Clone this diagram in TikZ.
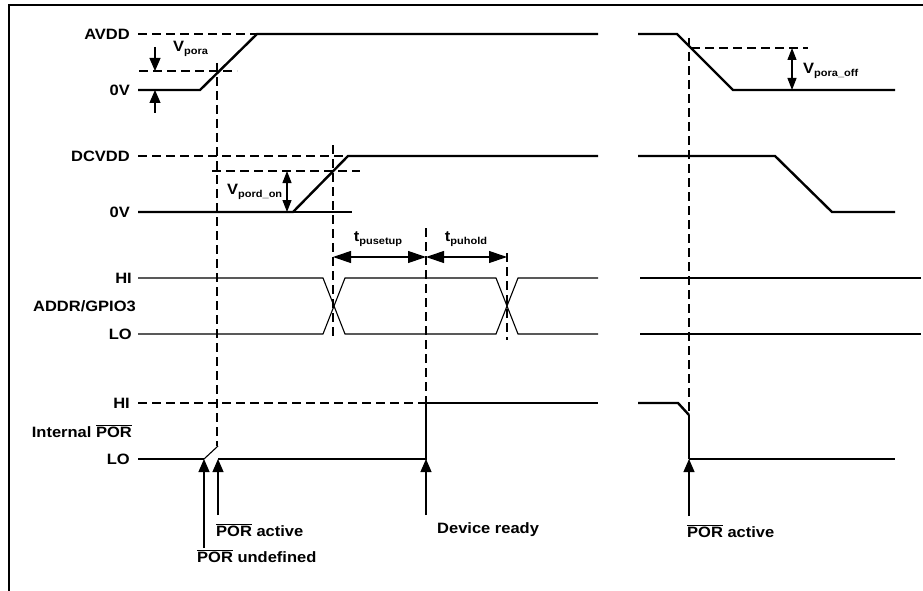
\documentclass[tikz,border=0pt]{standalone}
\usepackage{fontspec}
\setmainfont{Liberation Sans}[FakeStretch=1.1]
\usetikzlibrary{arrows.meta}
\newcommand\mysub[1]{\raisebox{-0.45ex}{\fontsize{10}{10}\selectfont #1}}
\newcommand\myovl[1]{$\overline{\mbox{#1}}$}
\begin{document}
\begin{tikzpicture}[x=1pt,y=-1pt,
  sig/.style={line width=2.4pt, line join=miter},
  thn/.style={line width=1.1pt},
  dsh/.style={line width=1.1pt, dash pattern=on 9pt off 5pt},
  lbl/.style={font=\bfseries\fontsize{15}{17}\selectfont, inner sep=0pt},
  tip/.style={-{Triangle[length=13pt,width=11pt]}, line width=1.1pt},
  dtip/.style={{Triangle[length=12pt,width=9pt]}-{Triangle[length=12pt,width=9pt]}, line width=1.1pt},
  btip/.style={{Triangle[length=18pt,width=12pt]}-{Triangle[length=18pt,width=12pt]}, line width=1.1pt}
]
\fill[white] (0,0) rectangle (923,591);
\useasboundingbox (0,0) rectangle (923,591);
% frame
\draw[line width=1.5pt] (9,591) -- (9,5) -- (923,5);

% ---- labels
\node[lbl, anchor=east] (lAVDD) at (130,34) {AVDD};
\node[lbl, anchor=east] (l0Va) at (130,90) {0V};
\node[lbl, anchor=east] (lDCVDD) at (130,156) {DCVDD};
\node[lbl, anchor=east] (l0Vd) at (130,212) {0V};
\node[lbl, anchor=east] (lHIa) at (132,278) {HI};
\node[lbl, anchor=east] (lADDR) at (136,306) {ADDR/GPIO3};
\node[lbl, anchor=east] (lLOa) at (132,334) {LO};
\node[lbl, anchor=east] (lHIp) at (130,403) {HI};
\node[lbl, anchor=east] (lPOR) at (132,431) {Internal \myovl{POR}};
\node[lbl, anchor=east] (lLOp) at (130,459) {LO};

% ---- vertical dashed markers
\draw[dsh] (217,63) -- (217,446);
\draw[dsh] (333,145) -- (333,340);
\draw[dsh] (426,228) -- (426,403);
\draw[dsh] (507,253) -- (507,340);
\draw[dsh] (689,38) -- (689,415);

% ---- AVDD
\draw[dsh] (138,34) -- (257,34);
\draw[sig] (138,90) -- (200,90) -- (257,34) -- (598,34);
\draw[dsh] (139,71) -- (237,71);
\draw[tip] (155,47) -- (155,71);
\draw[tip] (155,113) -- (155,90);
\node[lbl, anchor=west] (vpora) at (173,49) {V\mysub{pora}};
% right
\draw[sig] (638,34) -- (677,34) -- (733,90) -- (895,90);
\draw[dsh] (691,48) -- (808,48);
\draw[dtip] (792,48) -- (792,90);
\node[lbl, anchor=west] (vporaoff) at (803,71) {V\mysub{pora\_off}};

% ---- DCVDD
\draw[dsh] (138,156) -- (348,156);
\draw[sig] (138,212) -- (293,212) -- (348,156) -- (598,156);
\draw[thn] (293,212) -- (352,212);
\draw[dsh] (212,171) -- (360,171);
\draw[dtip] (287,171) -- (287,212);
\node[lbl, anchor=west] (vpord) at (227,192) {V\mysub{pord\_on}};
% right
\draw[sig] (638,156) -- (775,156) -- (832,212) -- (895,212);

% ---- ADDR/GPIO3
\draw[thn] (138,278) -- (323,278) -- (345,334) -- (496,334) -- (518,278) -- (598,278);
\draw[thn] (138,334) -- (323,334) -- (345,278) -- (496,278) -- (518,334) -- (598,334);
\draw[thn] (640,278) -- (921,278);
\draw[thn] (640,334) -- (921,334);
\draw[btip] (333,257) -- (426,257);
\draw[btip] (426,257) -- (507,257);
\node[lbl] (tsetup) at (378,239) {t\mysub{pusetup}};
\node[lbl] (thold) at (466,239) {t\mysub{puhold}};

% ---- Internal POR
\draw[dsh] (138,403) -- (426,403);
\draw[sig] (138,459) -- (204,459);
\draw[thn] (204,459) -- (218,446);
\draw[sig] (218,459) -- (426,459) -- (426,403) -- (598,403);
\draw[sig] (638,403) -- (678,403) -- (689,415);
\draw[line width=1.6pt] (689,415) -- (689,459);
\draw[sig] (689,459) -- (895,459);

\draw[tip] (204,548) -- (204,459);
\draw[tip] (218,515) -- (218,459);
\draw[tip] (426,515) -- (426,459);
\draw[tip] (689,516) -- (689,459);

\node[lbl, anchor=west] (tact1) at (216,530) {\myovl{POR} active};
\node[lbl, anchor=west] (tund) at (197,556) {\myovl{POR} undefined};
\node[lbl, anchor=west] (tready) at (437,530) {Device ready};
\node[lbl, anchor=west] (tact2) at (687,531) {\myovl{POR} active};
\end{tikzpicture}
\end{document}
